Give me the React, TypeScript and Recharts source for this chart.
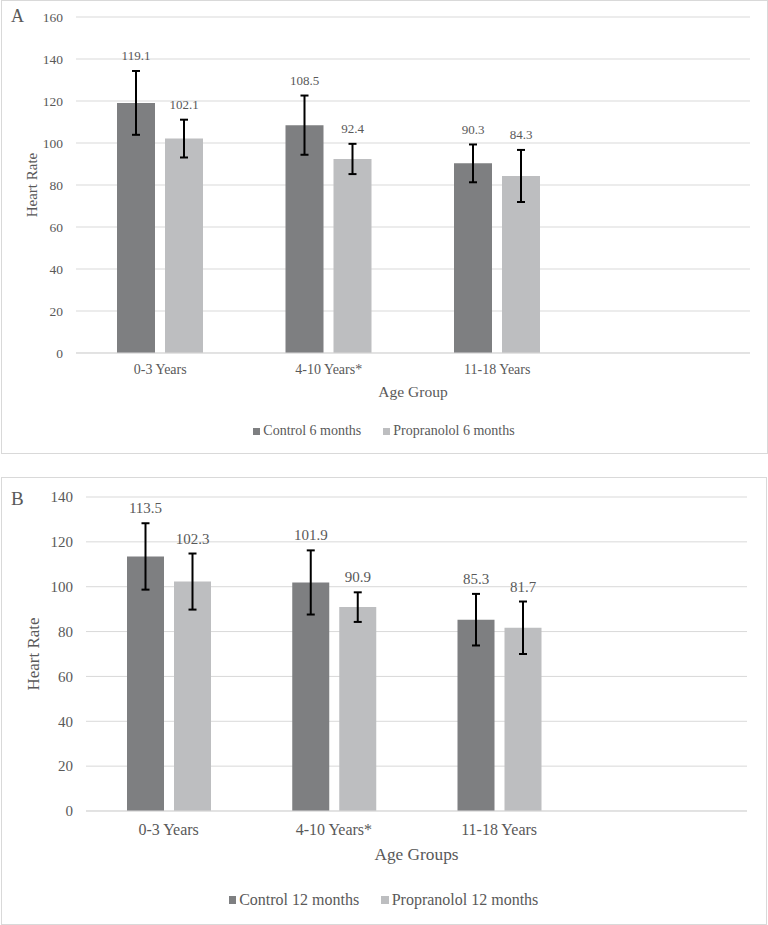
import React from 'react';
import { BarChart, Bar, XAxis, YAxis, CartesianGrid, ErrorBar, Legend } from 'recharts';

const categories = ['0-3 Years', '4-10 Years*', '11-18 Years', ''];

const control6 = [119.1, 108.5, 90.3, null];
const control6Err = [15.2, 14.1, 9.0, null];
const propranolol6 = [102.1, 92.4, 84.3, null];
const propranolol6Err = [9.0, 7.2, 12.4, null];

const control12 = [113.5, 101.9, 85.3, null];
const control12Err = [14.8, 14.3, 11.5, null];
const propranolol12 = [102.3, 90.9, 81.7, null];
const propranolol12Err = [12.5, 6.6, 11.7, null];

const ticksA = [0, 20, 40, 60, 80, 100, 120, 140, 160];
const ticksB = [0, 20, 40, 60, 80, 100, 120, 140];

const FONT = '"Liberation Serif", "Times New Roman", serif';
const TEXT = '#595959';
const DARK = '#7e7f81';
const LIGHT = '#bdbec0';
const GRID = '#d9d9d9';

const build = (c: any[], ce: any[], p: any[], pe: any[]) =>
  categories.map((name, i) => ({ name, control: c[i], controlErr: ce[i], prop: p[i], propErr: pe[i] }));

const dataA = build(control6, control6Err, propranolol6, propranolol6Err);
const dataB = build(control12, control12Err, propranolol12, propranolol12Err);

const makeLabel = (errs: any[], fontSize: number) => (props: any) => {
  const vb = props.viewBox || {};
  const x = props.x ?? vb.x;
  const y = props.y ?? vb.y;
  const width = props.width ?? vb.width;
  const height = props.height ?? vb.height;
  const value = props.value;
  const index = props.index;
  if (value == null || errs[index] == null) return null;
  const v = Number(value);
  const px = height / v;
  const top = y - errs[index] * px;
  return (
    <text
      x={x + width / 2}
      y={top - 15}
      textAnchor="middle"
      dominantBaseline="central"
      fontSize={fontSize}
      fontFamily={FONT}
      fill={TEXT}
    >
      {v.toFixed(1)}
    </text>
  );
};

const makeLegend = (items: { label: string; color: string }[], fontSize: number, sq: number) => () => (
  <div
    style={{
      display: 'flex',
      justifyContent: 'center',
      gap: 22,
      fontFamily: FONT,
      fontSize,
      lineHeight: `${fontSize + 2}px`,
      color: TEXT,
      whiteSpace: 'nowrap',
    }}
  >
    {items.map((it) => (
      <div key={it.label} style={{ display: 'flex', alignItems: 'center' }}>
        <span style={{ width: sq, height: sq, background: it.color, marginRight: 3, display: 'inline-block' }} />
        {it.label}
      </div>
    ))}
  </div>
);

type PanelProps = {
  data: any[];
  width: number;
  height: number;
  margin: any;
  yWidth: number;
  xHeight: number;
  ticks: number[];
  tickFont: number;
  catFont: number;
  catMargin: number;
  yTitle: string;
  yTitleFont: number;
  yTitleOffset: number;
  xTitle: string;
  xTitleFont: number;
  xTitleOffset: number;
  barSize: number;
  labelFont: number;
  cErr: any[];
  pErr: any[];
  legendItems: { label: string; color: string }[];
  legendFont: number;
  legendTop: number;
  legendSq: number;
};

const Panel = (p: PanelProps) => (
  <BarChart width={p.width} height={p.height} data={p.data} margin={p.margin} barGap={10}>
    <CartesianGrid vertical={false} stroke={GRID} strokeWidth={1} />
    <XAxis
      dataKey="name"
      interval={0}
      height={p.xHeight}
      axisLine={{ stroke: GRID }}
      tickLine={false}
      tickMargin={p.catMargin}
      tick={{ fill: TEXT, fontSize: p.catFont, fontFamily: FONT }}
      label={{
        value: p.xTitle,
        position: 'insideBottom',
        offset: p.xTitleOffset,
        style: { fill: TEXT, fontSize: p.xTitleFont, fontFamily: FONT },
      }}
    />
    <YAxis
      domain={[0, p.ticks[p.ticks.length - 1]]}
      ticks={p.ticks}
      width={p.yWidth}
      axisLine={false}
      tickLine={false}
      tickMargin={7}
      tick={{ fill: TEXT, fontSize: p.tickFont, fontFamily: FONT }}
      label={{
        value: p.yTitle,
        angle: -90,
        position: 'insideLeft',
        offset: p.yTitleOffset,
        style: { textAnchor: 'middle', fill: TEXT, fontSize: p.yTitleFont, fontFamily: FONT },
      }}
    />
    <Legend
      layout="horizontal"
      verticalAlign="middle"
      align="center"
      content={makeLegend(p.legendItems, p.legendFont, p.legendSq)}
      wrapperStyle={{ top: p.legendTop, left: 0, width: p.width }}
    />
    <Bar dataKey="control" fill={DARK} barSize={p.barSize} isAnimationActive={false} label={makeLabel(p.cErr, p.labelFont)}>
      <ErrorBar dataKey="controlErr" width={4} strokeWidth={2} stroke="#000" direction="y" />
    </Bar>
    <Bar dataKey="prop" fill={LIGHT} barSize={p.barSize} isAnimationActive={false} label={makeLabel(p.pErr, p.labelFont)}>
      <ErrorBar dataKey="propErr" width={4} strokeWidth={2} stroke="#000" direction="y" />
    </Bar>
  </BarChart>
);

export default function App() {
  return (
    <div style={{ position: 'absolute', left: 0, top: 0, width: 768, height: 925, background: '#fff' }}>
      <div style={{ position: 'absolute', left: 1, top: 0, width: 767, height: 454, border: `1px solid ${GRID}`, boxSizing: 'border-box' }} />
      <div style={{ position: 'absolute', left: 1, top: 477, width: 766, height: 448, border: `1px solid ${GRID}`, boxSizing: 'border-box' }} />
      <svg style={{ position: 'absolute', left: 0, top: 0 }} width={40} height={30}>
        <text x={11} y={22} fontSize={18} fontFamily={FONT} fill={TEXT}>A</text>
      </svg>
      <svg style={{ position: 'absolute', left: 0, top: 477 }} width={40} height={40}>
        <text x={11} y={27.5} fontSize={19} fontFamily={FONT} fill={TEXT}>B</text>
      </svg>
      <div style={{ position: 'absolute', left: 1, top: 1 }}>
        <Panel
          data={dataA}
          width={766}
          height={452}
          margin={{ top: 16, right: 17, bottom: 0, left: 0 }}
          yWidth={75}
          xHeight={100}
          ticks={ticksA}
          tickFont={13.5}
          catFont={14}
          catMargin={5}
          yTitle="Heart Rate"
          yTitleFont={15}
          yTitleOffset={31}
          xTitle="Age Group"
          xTitleFont={15.5}
          xTitleOffset={56}
          barSize={38}
          labelFont={13}
          cErr={control6Err}
          pErr={propranolol6Err}
          legendItems={[
            { label: 'Control 6 months', color: DARK },
            { label: 'Propranolol 6 months', color: LIGHT },
          ]}
          legendFont={14}
          legendTop={422}
          legendSq={7}
        />
      </div>
      <div style={{ position: 'absolute', left: 1, top: 477 }}>
        <Panel
          data={dataB}
          width={765}
          height={447}
          margin={{ top: 20, right: 19, bottom: 0, left: 0 }}
          yWidth={85}
          xHeight={113}
          ticks={ticksB}
          tickFont={15}
          catFont={16}
          catMargin={7}
          yTitle="Heart Rate"
          yTitleFont={17}
          yTitleOffset={32}
          xTitle="Age Groups"
          xTitleFont={17.3}
          xTitleOffset={64}
          barSize={37}
          labelFont={15}
          cErr={control12Err}
          pErr={propranolol12Err}
          legendItems={[
            { label: 'Control 12 months', color: DARK },
            { label: 'Propranolol 12 months', color: LIGHT },
          ]}
          legendFont={16}
          legendTop={414}
          legendSq={7.5}
        />
      </div>
    </div>
  );
}
